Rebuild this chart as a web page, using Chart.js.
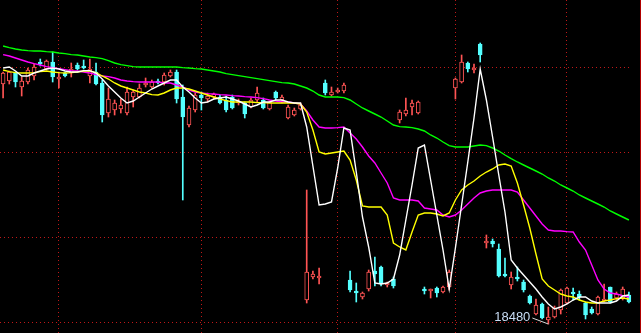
<!DOCTYPE html>
<html>
<head>
<meta charset="utf-8">
<script src="https://cdn.jsdelivr.net/npm/chart.js@4.4.1/dist/chart.umd.min.js"></script>
<style>
  html, body { margin: 0; padding: 0; background: #000; }
  .chart-box { position: relative; width: 640px; height: 333px; border-right: 1px solid #b00000; }
</style>
</head>
<body>
<div class="chart-box"><canvas id="kline"></canvas></div>
<script>
// daily candles
const opens = [19680, 19695, 19735, 19665, 19690, 19720, 19790, 19755, 19790, 19705,
  19735, 19735, 19775, 19770, 19720, 19740, 19685, 19535, 19550, 19555,
  19535, 19615, 19615, 19675, 19665, 19695, 19690, 19720, 19740, 19615,
  19475, 19550, 19625, 19605, 19615, 19615, 19600, 19615, 19585, 19585,
  19565, 19600, 19600, 19555, 19640, 19600, 19510, 19525, 19555, 18600,
  18715, 18710, 19685, 19625, 19640, 19645, 18700, 18645, 18615, 18655,
  18745, 18765, 18675, 18705, 19500, 19530, 19565, 19535, 18655, 18645,
  18660, 18640, 18665, 19660, 19690, 19785, 19750, 19880, 18885, 18895,
  18855, 18730, 18675, 18715, 18690, 18620, 18530, 18580, 18500, 18515,
  18550, 18585, 18640, 18630, 18585, 18555, 18530, 18595, 18665, 18610,
  18610, 18625];
const highs = [19740, 19745, 19740, 19715, 19760, 19780, 19805, 19800, 19840, 19740,
  19740, 19785, 19785, 19800, 19805, 19785, 19700, 19660, 19600, 19605,
  19665, 19650, 19680, 19710, 19700, 19705, 19735, 19750, 19750, 19675,
  19570, 19635, 19640, 19635, 19635, 19625, 19620, 19625, 19605, 19590,
  19610, 19665, 19610, 19595, 19645, 19625, 19575, 19560, 19585, 19150,
  18745, 18760, 19700, 19665, 19660, 19685, 18745, 18685, 18640, 18750,
  18815, 18770, 18690, 18715, 19550, 19610, 19600, 19595, 18665, 18655,
  18665, 18670, 18750, 19710, 19825, 19790, 19780, 19885, 18925, 18905,
  18880, 18810, 18740, 18765, 18700, 18625, 18605, 18585, 18565, 18570,
  18655, 18665, 18660, 18645, 18590, 18565, 18620, 18680, 18665, 18640,
  18665, 18640];
const lows = [19610, 19680, 19665, 19620, 19680, 19700, 19770, 19750, 19690, 19660,
  19715, 19715, 19750, 19755, 19685, 19675, 19490, 19515, 19525, 19535,
  19525, 19565, 19610, 19665, 19660, 19680, 19675, 19715, 19585, 19100,
  19465, 19540, 19550, 19590, 19605, 19580, 19540, 19555, 19575, 19510,
  19560, 19590, 19555, 19550, 19600, 19585, 19505, 19520, 19550, 18585,
  18705, 18680, 19625, 19620, 19635, 19635, 18640, 18590, 18605, 18645,
  18670, 18670, 18665, 18660, 19485, 19520, 19525, 19530, 18630, 18610,
  18615, 18635, 18650, 19605, 19685, 19740, 19735, 19790, 18860, 18865,
  18715, 18715, 18655, 18695, 18640, 18580, 18525, 18505, 18480, 18510,
  18530, 18580, 18600, 18600, 18505, 18530, 18525, 18590, 18585, 18600,
  18600, 18585];
const closes = [19735, 19740, 19690, 19695, 19750, 19765, 19780, 19795, 19715, 19715,
  19720, 19755, 19755, 19760, 19755, 19680, 19525, 19605, 19585, 19575,
  19640, 19640, 19660, 19685, 19690, 19685, 19725, 19740, 19605, 19515,
  19560, 19625, 19610, 19620, 19630, 19585, 19550, 19560, 19595, 19530,
  19600, 19635, 19560, 19590, 19610, 19615, 19565, 19550, 19575, 18740,
  18730, 18720, 19635, 19640, 19650, 19675, 18650, 18635, 18635, 18740,
  18730, 18680, 18685, 18670, 19540, 19550, 19585, 19590, 18645, 18655,
  18635, 18665, 18740, 19705, 19790, 19755, 19760, 19825, 18895, 18880,
  18720, 18720, 18715, 18705, 18650, 18585, 18575, 18510, 18515, 18560,
  18650, 18660, 18630, 18615, 18525, 18535, 18615, 18605, 18590, 18630,
  18655, 18590];

// moving averages
const ma5 = [19760, 19765, 19745, 19720, 19720, 19735, 19745, 19755, 19760, 19755,
  19745, 19740, 19740, 19747, 19747, 19735, 19705, 19670, 19640, 19610,
  19585, 19595, 19615, 19635, 19655, 19670, 19685, 19700, 19700, 19665,
  19640, 19610, 19585, 19590, 19605, 19610, 19615, 19605, 19595, 19580,
  19565, 19575, 19590, 19590, 19600, 19600, 19590, 19585, 19585, 19465,
  19270, 19075, 19080, 19090, 19260, 19460, 19450, 19240, 19015, 18865,
  18685, 18680, 18685, 18705, 18825, 19000, 19175, 19360, 19375, 19200,
  19025, 18850, 18655, 18860, 19075, 19290, 19510, 19755, 19600, 19415,
  19225, 19040, 18800, 18760, 18725, 18690, 18655, 18615, 18580, 18555,
  18565, 18580, 18600, 18615, 18615, 18595, 18585, 18585, 18585, 18595,
  18620, 18625];
const ma10 = [19750, 19742, 19737, 19735, 19735, 19737, 19742, 19745, 19740, 19737,
  19735, 19737, 19740, 19745, 19745, 19737, 19720, 19705, 19685, 19670,
  19660, 19650, 19640, 19635, 19627, 19625, 19635, 19650, 19660, 19660,
  19655, 19645, 19635, 19625, 19615, 19605, 19597, 19590, 19590, 19590,
  19590, 19587, 19587, 19585, 19585, 19585, 19585, 19585, 19580, 19540,
  19450, 19340, 19330, 19335, 19340, 19345, 19300, 19200, 19070, 19065,
  19065, 19065, 19025, 18885, 18865, 18850, 18940, 19025, 19035, 19035,
  19030, 19020, 19035, 19100, 19150, 19175, 19195, 19220, 19240, 19255,
  19275, 19280, 19270, 19185, 19075, 18960, 18830, 18705, 18670, 18650,
  18630, 18620, 18615, 18600, 18590, 18585, 18585, 18595, 18600, 18607,
  18610, 18605];
const ma20 = [19827, 19820, 19810, 19800, 19790, 19782, 19775, 19767, 19762, 19757,
  19752, 19747, 19745, 19740, 19735, 19727, 19720, 19717, 19710, 19700,
  19695, 19692, 19690, 19690, 19690, 19690, 19685, 19685, 19675, 19665,
  19650, 19640, 19635, 19632, 19630, 19627, 19625, 19622, 19620, 19617,
  19615, 19612, 19607, 19600, 19595, 19590, 19590, 19585, 19580, 19545,
  19500, 19465, 19460, 19460, 19462, 19465, 19435, 19405, 19365, 19320,
  19285, 19235, 19185, 19110, 19100, 19100, 19100, 19095, 19060, 19055,
  19050, 19025, 19015, 19025, 19050, 19080, 19110, 19135, 19145, 19150,
  19150, 19150, 19150, 19140, 19100, 19060, 19020, 18980, 18950, 18945,
  18945, 18942, 18940, 18890, 18850, 18775, 18700, 18655, 18635, 18630,
  18622, 18615];
const ma60 = [19870, 19862, 19855, 19850, 19847, 19845, 19845, 19842, 19840, 19835,
  19832, 19827, 19825, 19820, 19815, 19812, 19807, 19797, 19785, 19777,
  19772, 19767, 19765, 19765, 19765, 19765, 19765, 19765, 19765, 19762,
  19760, 19757, 19755, 19750, 19745, 19740, 19732, 19727, 19722, 19717,
  19712, 19707, 19702, 19697, 19692, 19687, 19685, 19680, 19670, 19660,
  19645, 19625, 19615, 19615, 19615, 19612, 19600, 19580, 19560, 19545,
  19530, 19515, 19495, 19475, 19467, 19465, 19462, 19455, 19445, 19425,
  19410, 19390, 19372, 19365, 19365, 19365, 19370, 19375, 19372, 19360,
  19345, 19325, 19307, 19290, 19275, 19260, 19245, 19230, 19210, 19195,
  19175, 19160, 19145, 19125, 19110, 19095, 19080, 19065, 19045, 19030,
  19015, 19000];

const days = opens.map((_, i) => String(i + 1));
const gridDays = [9, 32, 54, 73, 91];
const gridPrices = [18490, 18913, 19337, 19760];

const UP = '#ff5454';
const DOWN = '#54ffff';
const GRID = '#c01818';

const isUp = opens.map((o, i) => closes[i] >= o);

// marks the lowest low with its price, like the trading terminal does
const lowMarker = {
  id: 'lowMarker',
  afterDatasetsDraw(chart) {
    const i = lows.indexOf(Math.min(...lows));
    const x = chart.scales.x.getPixelForValue(i);
    const y = chart.scales.y.getPixelForValue(lows[i]);
    const ctx = chart.ctx;
    ctx.save();
    ctx.strokeStyle = '#d8d8d8';
    ctx.lineWidth = 1;
    ctx.beginPath();
    ctx.moveTo(x - 16, y - 6);
    ctx.lineTo(x, y);
    ctx.stroke();
    ctx.fillStyle = '#c8dcf4';
    ctx.font = '13px "Liberation Sans", Arial, sans-serif';
    ctx.textAlign = 'right';
    ctx.textBaseline = 'alphabetic';
    ctx.fillText(String(lows[i]), x - 18, y - 3);
    ctx.restore();
  }
};

function maLine(data, color) {
  return {
    type: 'line',
    data: data,
    borderColor: color,
    borderWidth: 1.4,
    pointRadius: 0,
    tension: 0,
    order: 0
  };
}

new Chart(document.getElementById('kline'), {
  type: 'bar',
  data: {
    labels: days,
    datasets: [
      maLine(ma5, '#ffffff'),
      maLine(ma10, '#ffff00'),
      maLine(ma20, '#ff00ff'),
      maLine(ma60, '#00ff00'),
      {
        data: opens.map((o, i) => [o, closes[i]]),
        backgroundColor: isUp.map(u => u ? '#000000' : DOWN),
        borderColor: isUp.map(u => u ? UP : DOWN),
        borderWidth: 1,
        borderSkipped: false,
        barThickness: 4,
        minBarLength: 1,
        grouped: false,
        order: 1
      },
      {
        data: lows.map((l, i) => [l, highs[i]]),
        backgroundColor: isUp.map(u => u ? UP : DOWN),
        borderWidth: 0,
        barThickness: 1,
        grouped: false,
        order: 2
      }
    ]
  },
  options: {
    responsive: true,
    maintainAspectRatio: false,
    animation: false,
    layout: { padding: { left: 0, right: 8, top: 0, bottom: 0 } },
    plugins: {
      legend: { display: false },
      tooltip: { enabled: false }
    },
    scales: {
      x: {
        offset: true,
        grid: { offset: false, color: GRID, drawTicks: false },
        border: { display: false, dash: [1, 3] },
        ticks: { display: false, padding: 0 },
        afterBuildTicks: axis => { axis.ticks = gridDays.map(v => ({ value: v })); }
      },
      y: {
        min: 18435,
        max: 20100,
        grid: { color: GRID, drawTicks: false },
        border: { display: false, dash: [1, 3] },
        ticks: { display: false, padding: 0 },
        afterBuildTicks: axis => { axis.ticks = gridPrices.map(v => ({ value: v })); }
      }
    }
  },
  plugins: [lowMarker]
});
</script>
</body>
</html>
